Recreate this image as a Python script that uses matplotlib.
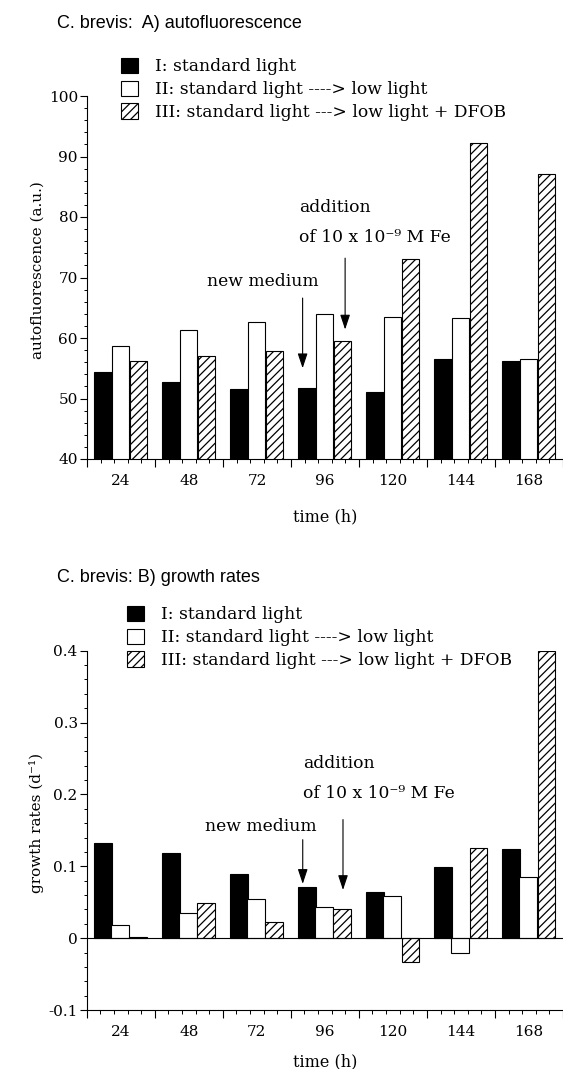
import numpy as np
import matplotlib
matplotlib.use("Agg")
import matplotlib.pyplot as plt
from matplotlib.patches import Patch
from matplotlib.ticker import FixedLocator, MultipleLocator, FuncFormatter

plt.rcParams["font.family"] = "DejaVu Serif"
plt.rcParams["axes.unicode_minus"] = False
plt.rcParams["hatch.linewidth"] = 0.9

# ---- data ----
hours = [24, 48, 72, 96, 120, 144, 168]
series_labels = ["I: standard light",
                 "II: standard light ----> low light",
                 "III: standard light ---> low light + DFOB"]

auto_I = [54.4, 52.8, 51.5, 51.7, 51.0, 56.6, 56.2]
auto_II = [58.7, 61.4, 62.7, 64.0, 63.5, 63.3, 56.6]
auto_III = [56.2, 57.1, 57.8, 59.5, 73.0, 92.2, 87.1]

growth_I = [0.132, 0.118, 0.089, 0.071, 0.064, 0.099, 0.124]
growth_II = [0.018, 0.035, 0.054, 0.044, 0.058, -0.021, 0.085]
growth_III = [0.001, 0.049, 0.022, 0.040, -0.033, 0.126, 0.400]

# ---- styles ----
FS = 11      # tick labels, axis labels
TS = 12.3    # legend and annotation text
offsets = [-6.4, -0.2, 6.2]
width = 6.3
faces = ["black", "white", "white"]
hatches = [None, None, "////"]

W, H = 563, 1069
fig = plt.figure(figsize=(W / 100, H / 100), dpi=100)


def panel(ax, data, ylim, ystep, fmt, ylabel, title, title_y, leg_xy, ylab_x, xlab_y):
    x = np.array(hours, dtype=float)
    for vals, off, fc, h in zip(data, offsets, faces, hatches):
        ax.bar(x + off, vals, width=width, facecolor=fc, edgecolor="black",
               linewidth=0.8, hatch=h)

    ax.set_xlim(12, 180)
    ax.set_ylim(*ylim)
    for s in ["top", "right"]:
        ax.spines[s].set_visible(False)
    for s in ["left", "bottom"]:
        ax.spines[s].set_linewidth(0.8)

    # group boundaries as major ticks, 4 minor ticks between them
    ax.xaxis.set_major_locator(FixedLocator(np.arange(12, 181, 24)))
    ax.xaxis.set_minor_locator(FixedLocator(np.arange(12, 180.1, 4.8)))
    ax.tick_params(axis="x", which="major", length=6, width=0.8, labelbottom=False)
    ax.tick_params(axis="x", which="minor", length=3, width=0.7)

    ax.yaxis.set_major_locator(MultipleLocator(ystep))
    ax.yaxis.set_minor_locator(MultipleLocator(ystep / 5))
    ax.yaxis.set_major_formatter(FuncFormatter(fmt))
    ax.tick_params(axis="y", which="major", length=5, width=0.8, pad=1.5, labelsize=FS)
    ax.tick_params(axis="y", which="minor", length=2.5, width=0.7)

    # hour labels sit in the middle of each group
    sec = ax.secondary_xaxis("bottom")
    sec.set_xticks(hours, [str(h) for h in hours])
    sec.tick_params(length=0, pad=11, labelsize=FS)
    sec.spines["bottom"].set_visible(False)

    ax.set_xlabel("time (h)", fontsize=11.5)
    ax.xaxis.set_label_coords(0.5, xlab_y)
    ax.set_ylabel(ylabel, fontsize=FS)
    ax.yaxis.set_label_coords(ylab_x, 0.52)

    handles = [Patch(facecolor=fc, edgecolor="black", linewidth=0.8, hatch=h)
               for fc, h in zip(faces, hatches)]
    ax.legend(handles, series_labels, loc="upper left",
              bbox_to_anchor=(leg_xy[0] / W, 1 - leg_xy[1] / H),
              bbox_transform=fig.transFigure, frameon=False, fontsize=TS,
              handlelength=1.0, handleheight=1.0, handletextpad=1.0,
              labelspacing=0.3, borderpad=0, borderaxespad=0)

    fig.text(57 / W, 1 - title_y / H, title, family="Liberation Sans",
             fontsize=13, ha="left", va="center")


arrow = dict(arrowstyle="-|>,head_length=0.9,head_width=0.3", color="black",
             lw=0.8, shrinkA=0, shrinkB=0)
fe_text = "of 10 x 10\u207b\u2079 M Fe"

# ---- A) autofluorescence ----
ax1 = fig.add_axes([87 / W, 1 - 459 / H, 476 / W, 363 / H])
panel(ax1, [auto_I, auto_II, auto_III], (40, 100), 10,
      lambda v, p: f"{v:.0f}", "autofluorescence (a.u.)",
      "C. brevis:  A) autofluorescence", 23, (121, 58), -0.09, -0.135)
ax1.annotate("", xy=(88.1, 55.0), xytext=(88.1, 66.6), arrowprops=arrow)
ax1.annotate("", xy=(103.1, 61.4), xytext=(103.1, 73.2), arrowprops=arrow)
ax1.text(73.9, 69.3, "new medium", ha="center", va="center", fontsize=TS)
ax1.text(86.8, 81.5, "addition", ha="left", va="center", fontsize=TS)
ax1.text(86.8, 76.6, fe_text, ha="left", va="center", fontsize=TS)

# ---- B) growth rates ----
ax2 = fig.add_axes([86.7 / W, 1 - 1010 / H, 476.3 / W, 359.3 / H])
panel(ax2, [growth_I, growth_II, growth_III], (-0.1, 0.4), 0.1,
      lambda v, p: "0" if abs(v) < 1e-9 else f"{v:.1f}", "growth rates (d\u207b\u00b9)",
      "C. brevis: B) growth rates", 577, (127, 606), -0.09, -0.12)
ax2.axhline(0, color="black", lw=0.8)
ax2.annotate("", xy=(88.2, 0.0755), xytext=(88.2, 0.137), arrowprops=arrow)
ax2.annotate("", xy=(102.4, 0.067), xytext=(102.4, 0.165), arrowprops=arrow)
ax2.text(73.3, 0.155, "new medium", ha="center", va="center", fontsize=TS)
ax2.text(88.2, 0.243, "addition", ha="left", va="center", fontsize=TS)
ax2.text(88.2, 0.2017, fe_text, ha="left", va="center", fontsize=TS)

fig.savefig("out.png", dpi=100)
